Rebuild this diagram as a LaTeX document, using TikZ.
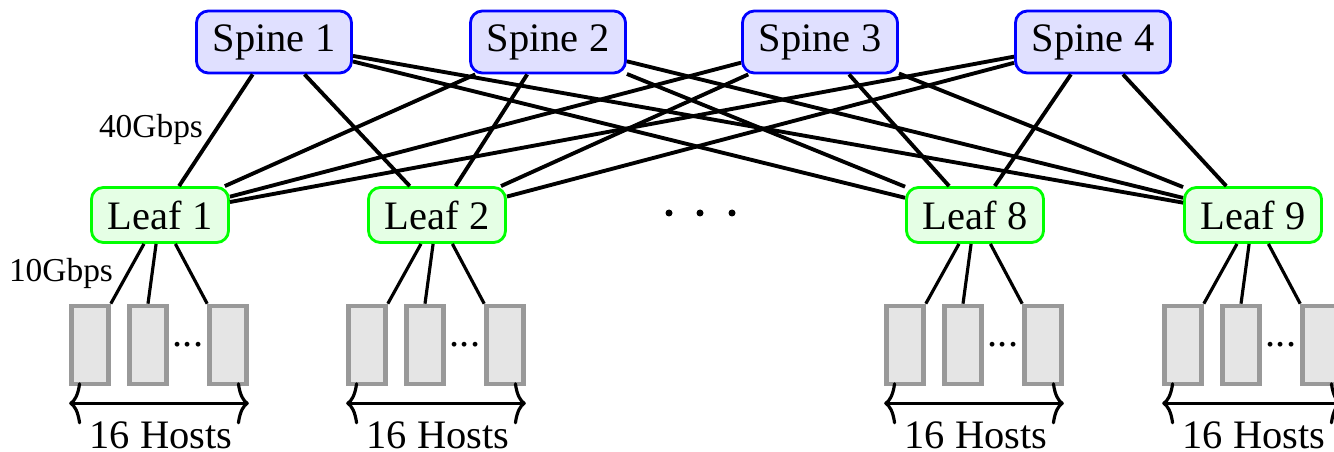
\documentclass[tikz,border=0pt]{standalone}
\usepackage{fontspec}
\setmainfont{Liberation Serif}
\usetikzlibrary{arrows.meta,calc}

\tikzset{
  spinebox/.style={draw=blue, line width=0.8pt, fill=blue!12, rounded corners=3.4pt,
    minimum width=1.55cm, minimum height=0.62cm, inner sep=0pt,
    font=\fontsize{11.5}{13}\selectfont},
  leafbox/.style={draw=green, line width=0.8pt, fill=green!10, rounded corners=3.4pt,
    minimum width=1.37cm, minimum height=0.55cm, inner sep=0pt,
    font=\fontsize{11.5}{13}\selectfont},
  hostbox/.style={draw=gray!80, line width=1.3pt, fill=gray!20,
    minimum width=0.37cm, minimum height=0.78cm, inner sep=0pt},
  uplink/.style={line width=1.1pt, black},
  downlink/.style={line width=0.9pt, black},
  span/.style={line width=0.9pt, {To[length=3.4pt,width=12pt]}-{To[length=3.4pt,width=12pt]}},
  ratelabel/.style={font=\fontsize{9.5}{11}\selectfont, inner sep=0pt},
  countlabel/.style={font=\fontsize{11.5}{13}\selectfont, inner sep=0pt},
  elide/.style={font=\fontsize{11.5}{13}\selectfont, inner sep=0pt},
  bigdot/.style={fill=black, circle, minimum size=0.07cm, inner sep=0pt}
}

\begin{document}
\begin{tikzpicture}[x=0.01cm, y=-0.01cm]
  \useasboundingbox (0,0) rectangle (1334,452);
  \clip (0,0) rectangle (1334,452);

  % spine layer
  \node[spinebox] (s1) at (274,42) {Spine 1};
  \node[spinebox] (s2) at (548,42) {Spine 2};
  \node[spinebox] (s3) at (820,42) {Spine 3};
  \node[spinebox] (s4) at (1093,42) {Spine 4};

  % leaf layer
  \node[leafbox] (l1) at (160,215) {Leaf 1};
  \node[leafbox] (l2) at (437,215) {Leaf 2};
  \node[leafbox] (l8) at (975,215) {Leaf 8};
  \node[leafbox] (l9) at (1253,215) {Leaf 9};

  % full mesh between spines and leaves
  \foreach \s in {s1,s2,s3,s4}
    \foreach \l in {l1,l2,l8,l9}
      \draw[uplink] (\s) -- (\l);

  % elided leaves
  \node[bigdot] (d1) at (669,213) {};
  \node[bigdot] (d2) at (700,213) {};
  \node[bigdot] (d3) at (732,213) {};

  % hosts under each leaf
  \foreach \l/\x in {l1/160, l2/437, l8/975, l9/1253} {
    \node[hostbox] (\l h1) at (\x-70,345) {};
    \node[hostbox] (\l h2) at (\x-12,345) {};
    \node[hostbox] (\l h3) at (\x+68,345) {};
    \node[elide] (\l dots) at (\x+28,345) {...};
    \draw[downlink] (\l) -- (\l h1.north east);
    \draw[downlink] (\l) -- (\l h2.north);
    \draw[downlink] (\l) -- (\l h3.north west);
    \coordinate (\l a) at ($(\l h1.south west)+(0,17)$);
    \coordinate (\l b) at ($(\l h3.south east)+(0,17)$);
    \draw[span] (\l a) -- (\l b);
    \node[countlabel] (\l cnt) at (\x+1,435) {16 Hosts};
  }

  % link rates
  \node[ratelabel] (r40) at (151,129) {40Gbps};
  \node[ratelabel] (r10) at (61,273) {10Gbps};
\end{tikzpicture}
\end{document}
